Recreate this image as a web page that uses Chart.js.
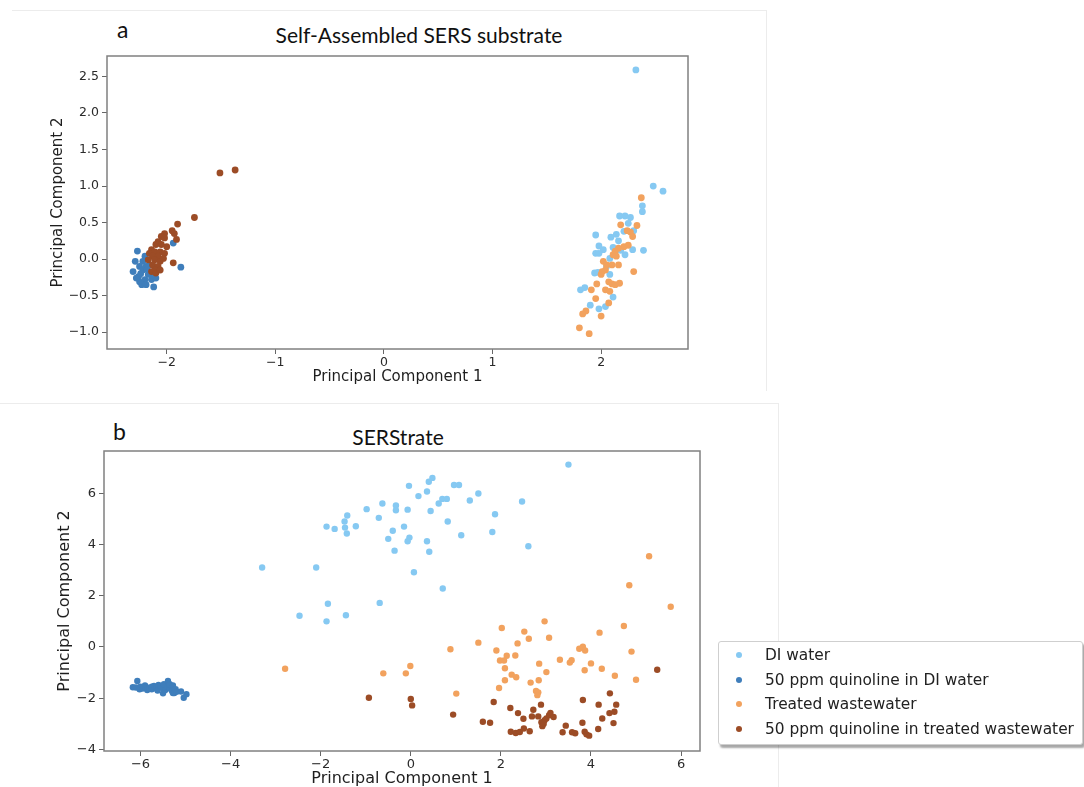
<!DOCTYPE html>
<html>
<head>
<meta charset="utf-8">
<script src="https://cdn.jsdelivr.net/npm/chart.js@4"></script>
<style>
  body { margin: 0; width: 1084px; height: 787px; overflow: hidden; background: #fff; position: relative; font-family: "DejaVu Sans"; }
  canvas { position: absolute; }
  .panel { position: absolute; border-top: 1px solid #ececec; border-right: 1px solid #ececec; }
  .title { position: absolute; font-family: Lato; font-size: 21px; line-height: 21px; color: #111; white-space: nowrap; transform: translateX(-50%); }
  .tag { position: absolute; font-family: Lato; font-size: 23px; line-height: 23px; color: #111; }
  #legend { position: absolute; left: 718px; top: 641px; width: 363px; height: 102px; border: 1px solid #cfcfcf; border-radius: 3px; box-shadow: 2px 3px 2px rgba(0,0,0,0.35); background: #fff; }
  .row { position: absolute; left: 0; height: 24px; font-size: 15.4px; line-height: 24px; color: #222; white-space: nowrap; }
  .dot { position: absolute; width: 6px; height: 6px; border-radius: 50%; }
</style>
</head>
<body>
<div class="panel" style="left:12px;top:10px;width:754px;height:380px;"></div>
<div class="panel" style="left:0;top:403px;width:778px;height:384px;"></div>
<div class="tag" style="left:117px;top:18px;">a</div>
<div class="title" style="left:419px;top:24px;">Self-Assembled SERS substrate</div>
<div class="tag" style="left:113px;top:420px;">b</div>
<div class="title" style="left:398px;top:426px;">SERStrate</div>
<canvas id="chartA" width="770" height="395" style="left:0;top:0;"></canvas>
<canvas id="chartB" width="780" height="390" style="left:0;top:400px;"></canvas>
<div id="legend"></div>
<script>
const seriesNames = ['DI water', '50 ppm quinoline in DI water', 'Treated wastewater', '50 ppm quinoline in treated wastewater'];
const seriesColors = ['#86c9f2', '#3f7ebb', '#f2a25e', '#9c4c26'];

// panel a: Self-Assembled SERS substrate
const aDiWater = [[2.32,2.59],[2.48,1.00],[2.57,0.93],[2.38,0.73],[2.38,0.65],[2.17,0.59],[2.22,0.59],[2.27,0.57],[2.25,0.49],[2.30,0.39],[2.21,0.38],[1.95,0.33],[2.09,0.30],[2.14,0.34],[2.16,0.25],[1.98,0.18],[2.02,0.13],[1.95,0.08],[1.98,0.08],[2.11,0.16],[2.18,0.12],[2.22,0.06],[2.29,0.13],[2.39,0.12],[2.08,0.01],[2.05,-0.10],[1.94,-0.19],[1.97,-0.18],[2.08,-0.21],[1.81,-0.42],[1.85,-0.39],[2.11,-0.52],[1.90,-0.63],[1.98,-0.68],[2.04,-0.65]];
const aQuinDi = [[-2.27,0.11],[-2.29,-0.03],[-2.31,-0.17],[-2.20,0.04],[-2.25,-0.10],[-2.22,-0.15],[-2.26,-0.24],[-2.19,-0.10],[-2.17,-0.21],[-2.25,-0.31],[-2.20,-0.28],[-2.23,-0.35],[-2.19,-0.35],[-2.12,-0.38],[-2.14,-0.28],[-2.10,-0.26],[-1.87,-0.11],[-1.94,0.22],[-2.16,-0.08],[-2.22,-0.03],[-2.28,-0.26],[-2.15,-0.18],[-2.24,-0.20],[-2.18,-0.14],[-2.13,-0.22]];
const aTreated = [[2.37,0.84],[2.18,0.47],[2.33,0.46],[2.27,0.37],[2.24,0.39],[2.29,0.31],[2.25,0.19],[2.21,0.17],[2.16,0.15],[2.13,0.11],[2.11,0.06],[2.14,0.04],[2.02,-0.03],[2.05,-0.08],[2.10,-0.08],[2.16,-0.08],[2.01,-0.17],[2.04,-0.15],[2.00,-0.21],[2.30,-0.17],[1.96,-0.34],[2.07,-0.31],[2.10,-0.34],[2.13,-0.35],[2.17,-0.33],[2.04,-0.42],[2.08,-0.44],[1.91,-0.42],[1.95,-0.54],[2.07,-0.60],[1.86,-0.71],[1.83,-0.75],[2.00,-0.78],[1.80,-0.94],[1.89,-1.02]];
const aQuinTreated = [[-1.37,1.22],[-1.51,1.18],[-1.745,0.57],[-1.90,0.48],[-1.95,0.39],[-1.93,0.35],[-1.91,0.27],[-1.94,-0.05],[-2.02,0.35],[-2.05,0.31],[-2.02,0.29],[-2.08,0.24],[-2.10,0.20],[-2.05,0.20],[-2.00,0.17],[-2.14,0.13],[-2.11,0.10],[-2.06,0.10],[-2.02,0.08],[-2.16,0.08],[-2.13,0.04],[-2.08,0.04],[-2.11,-0.01],[-2.06,-0.03],[-2.13,-0.08],[-2.08,-0.10],[-2.11,-0.15],[-2.14,-0.17],[-2.10,-0.19],[-2.06,-0.15],[-2.17,-0.01],[-2.03,0.01]];
const aTicksX = [-2, -1, 0, 1, 2];
const aTicksY = [-1.0, -0.5, 0.0, 0.5, 1.0, 1.5, 2.0, 2.5];

// panel b: SERStrate
const bDiWater = [[3.50,7.12],[-3.30,3.10],[-2.10,3.10],[-2.47,1.22],[-1.87,1.00],[-1.84,1.69],[-1.44,1.24],[-0.69,1.72],[-1.87,4.70],[-1.69,4.61],[-1.47,4.90],[-1.41,5.13],[-1.46,4.66],[-1.42,4.43],[-1.22,4.71],[-0.98,5.38],[-0.71,5.04],[-0.63,5.60],[-0.33,5.52],[-0.33,5.34],[-0.07,5.36],[-0.04,6.29],[0.17,5.89],[0.36,6.07],[0.40,6.45],[0.48,6.60],[0.62,5.60],[0.70,5.78],[0.80,5.78],[0.96,6.32],[1.07,6.32],[1.31,5.72],[1.50,5.99],[0.44,5.31],[0.82,4.90],[1.87,5.18],[2.47,5.68],[2.61,3.93],[1.81,4.49],[1.12,4.36],[-0.15,4.70],[-0.40,4.54],[-0.50,4.22],[-0.03,4.27],[-0.07,4.13],[-0.36,3.76],[0.36,4.13],[0.41,3.72],[0.07,2.92],[0.71,2.28]];
const bQuinDi = [[-6.17,-1.57],[-6.10,-1.58],[-6.07,-1.33],[-6.02,-1.65],[-6.00,-1.55],[-5.95,-1.62],[-5.90,-1.50],[-5.88,-1.55],[-5.85,-1.68],[-5.80,-1.60],[-5.75,-1.55],[-5.75,-1.65],[-5.70,-1.52],[-5.65,-1.62],[-5.62,-1.70],[-5.60,-1.48],[-5.55,-1.55],[-5.50,-1.62],[-5.50,-1.81],[-5.48,-1.45],[-5.45,-1.68],[-5.39,-1.33],[-5.40,-1.55],[-5.35,-1.62],[-5.35,-1.45],[-5.30,-1.72],[-5.28,-1.50],[-5.28,-1.80],[-5.25,-1.80],[-5.22,-1.65],[-5.20,-1.75],[-5.10,-1.74],[-5.04,-1.98],[-4.98,-1.84]];
const bTreated = [[-2.79,-0.85],[-0.61,-1.03],[-0.11,-1.03],[-0.01,-0.74],[0.88,-0.09],[1.01,-1.82],[1.50,0.17],[1.90,-0.14],[2.02,0.74],[1.98,-0.53],[2.07,-0.53],[2.13,-0.34],[2.32,-0.33],[2.09,-0.83],[2.24,-1.08],[2.34,-1.18],[2.09,-1.30],[1.96,-1.60],[2.37,0.14],[2.52,0.60],[2.62,0.32],[2.66,-1.39],[2.85,-0.65],[2.84,-1.30],[2.78,-1.72],[2.83,-1.77],[2.81,-1.88],[2.97,1.00],[3.01,-0.98],[3.07,0.36],[3.31,-0.50],[3.53,-0.61],[3.57,-0.52],[3.74,-0.07],[3.82,0.01],[3.87,-0.14],[3.86,-0.91],[4.00,-0.64],[4.19,0.56],[4.24,-0.85],[4.53,-1.12],[4.73,0.82],[4.90,-0.18],[5.00,-1.28],[5.77,1.57],[5.29,3.54],[4.85,2.41]];
const bQuinTreated = [[-0.93,-1.98],[0.00,-2.03],[0.03,-2.28],[0.94,-2.64],[1.60,-2.92],[1.76,-2.96],[1.84,-2.15],[2.21,-2.38],[2.38,-2.58],[2.50,-2.80],[2.22,-3.31],[2.33,-3.36],[2.42,-3.32],[2.51,-3.18],[2.64,-3.29],[2.72,-2.45],[2.69,-2.71],[2.83,-2.71],[2.89,-2.25],[2.90,-2.94],[2.92,-3.09],[2.97,-2.86],[3.01,-2.79],[3.07,-2.66],[3.10,-2.57],[3.17,-2.73],[2.95,-3.00],[3.37,-3.33],[3.44,-3.07],[3.58,-3.33],[3.65,-3.37],[3.81,-2.96],[3.82,-2.07],[3.86,-3.31],[3.90,-3.41],[3.96,-3.46],[4.16,-3.20],[4.17,-2.25],[4.25,-2.79],[4.41,-2.58],[4.42,-1.81],[4.50,-2.97],[4.52,-2.53],[4.56,-2.25],[5.47,-0.89]];
const bTicksX = [-6, -4, -2, 0, 2, 4, 6];
const bTicksY = [-4, -2, 0, 2, 4, 6];

const minus = v => (v < 0 ? '\u2212' : '') + Math.abs(v);

const frame = {
  id: 'frame',
  afterDraw(chart) {
    const { ctx, chartArea: a } = chart;
    ctx.save();
    ctx.strokeStyle = '#808080';
    ctx.lineWidth = 1.5;
    ctx.strokeRect(a.left, a.top, a.right - a.left, a.bottom - a.top);
    ctx.restore();
  }
};

function axis(o) {
  return {
    type: 'linear',
    min: o.min,
    max: o.max,
    afterBuildTicks: s => { s.ticks = o.ticks.map(v => ({ value: v })); },
    afterFit: s => { if (o.height) s.height = o.height; if (o.width) s.width = o.width; },
    grid: { display: true, drawOnChartArea: false, drawTicks: true, tickLength: 5, color: '#666', lineWidth: 1 },
    border: { display: false },
    ticks: { autoSkip: false, maxRotation: 0, padding: o.pad, color: '#2a2a2a', font: { family: 'DejaVu Sans', size: o.tickSize }, callback: o.fmt },
    title: { display: true, text: o.title, color: '#1e1e1e', padding: 0, font: { family: 'DejaVu Sans', size: o.titleSize } }
  };
}

function makeChart(id, series, o) {
  const order = [4, 3, 2, 1];
  new Chart(document.getElementById(id), {
    type: 'scatter',
    data: {
      datasets: series.map((pts, i) => ({
        label: seriesNames[i],
        data: pts.map(p => ({ x: p[0], y: p[1] })),
        backgroundColor: seriesColors[i],
        borderWidth: 0,
        pointRadius: o.radius,
        order: order[i]
      }))
    },
    options: {
      responsive: false,
      animation: false,
      events: [],
      devicePixelRatio: 1,
      layout: { padding: o.padding },
      plugins: { legend: { display: false }, tooltip: { enabled: false } },
      scales: { x: axis(o.x), y: axis(o.y) }
    },
    plugins: [frame]
  });
}

makeChart('chartA', [aDiWater, aQuinDi, aTreated, aQuinTreated], {
  radius: 3.4,
  padding: { left: 49, top: 56, right: 82, bottom: 9 },
  x: { min: -2.55, max: 2.80, ticks: aTicksX, height: 37, pad: 1, tickSize: 12.5, titleSize: 15, title: 'Principal Component 1', fmt: v => minus(v) },
  y: { min: -1.23, max: 2.78, ticks: aTicksY, width: 58, pad: 3, tickSize: 12.5, titleSize: 15, title: 'Principal Component 2', fmt: v => (v < 0 ? '\u2212' : '') + Math.abs(v).toFixed(1) }
});

makeChart('chartB', [bDiWater, bQuinDi, bTreated, bQuinTreated], {
  radius: 3.2,
  padding: { left: 55, top: 51, right: 80, bottom: 2 },
  x: { min: -6.81, max: 6.42, ticks: bTicksX, height: 37, pad: 1, tickSize: 13, titleSize: 16, title: 'Principal Component 1', fmt: v => minus(v) },
  y: { min: -4.06, max: 7.65, ticks: bTicksY, width: 49, pad: 3, tickSize: 13, titleSize: 16, title: 'Principal Component 2', fmt: v => minus(v) }
});

// shared legend
const legend = document.getElementById('legend');
seriesNames.forEach((name, i) => {
  const row = document.createElement('div');
  row.className = 'row';
  row.style.top = (1 + 24.5 * i) + 'px';
  row.innerHTML = '<span class="dot" style="left:17px;top:9px;background:' + seriesColors[i] + '"></span>' +
    '<span style="position:absolute;left:46px;">' + name + '</span>';
  legend.appendChild(row);
});
</script>
</body>
</html>
